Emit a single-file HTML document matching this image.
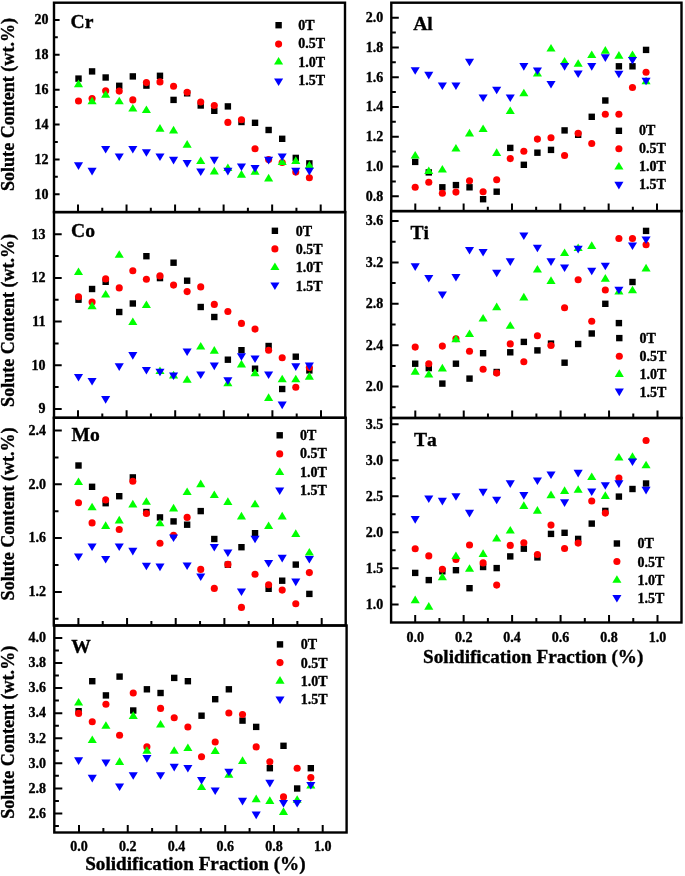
<!DOCTYPE html><html><head><meta charset="utf-8"><style>html,body{margin:0;padding:0;background:#fff;}svg{display:block;filter:blur(0.3px);}text.nk{font-kerning:none;}text{font-family:"Liberation Serif",serif;font-weight:bold;fill:#000;stroke:#000;stroke-width:0.35px;}</style></head><body>
<svg width="685" height="876" viewBox="0 0 685 876">
<rect width="685" height="876" fill="#fff"/>
<path d="M54.00 194.30h5.6M54.00 176.86h3.8M54.00 159.42h5.6M54.00 141.98h3.8M54.00 124.54h5.6M54.00 107.10h3.8M54.00 89.66h5.6M54.00 72.22h3.8M54.00 54.78h5.6M54.00 37.34h3.8M54.00 19.90h5.6M78.00 212.10v-7.6M102.27 212.10v-4.4M126.54 212.10v-7.6M150.81 212.10v-4.4M175.08 212.10v-7.6M199.35 212.10v-4.4M223.62 212.10v-7.6M247.89 212.10v-4.4M272.16 212.10v-7.6M296.43 212.10v-4.4M320.70 212.10v-7.6M54.00 408.90h7.7M54.00 387.08h4.6M54.00 365.25h7.7M54.00 343.43h4.6M54.00 321.60h7.7M54.00 299.77h4.6M54.00 277.95h7.7M54.00 256.12h4.6M54.00 234.30h7.7M78.00 417.80v-7.6M102.30 417.80v-4.4M126.60 417.80v-7.6M150.90 417.80v-4.4M175.20 417.80v-7.6M199.50 417.80v-4.4M223.80 417.80v-7.6M248.10 417.80v-4.4M272.40 417.80v-7.6M296.70 417.80v-4.4M321.00 417.80v-7.6M53.80 618.80h4.7M53.80 591.90h8.0M53.80 565.00h4.7M53.80 538.10h8.0M53.80 511.20h4.7M53.80 484.30h8.0M53.80 457.40h4.7M53.80 430.50h8.0M78.40 625.50v-7.6M102.73 625.50v-4.4M127.06 625.50v-7.6M151.39 625.50v-4.4M175.72 625.50v-7.6M200.05 625.50v-4.4M224.38 625.50v-7.6M248.71 625.50v-4.4M273.04 625.50v-7.6M297.37 625.50v-4.4M321.70 625.50v-7.6M54.30 826.00h4.6M54.30 813.46h8.0M54.30 800.92h4.6M54.30 788.38h8.0M54.30 775.84h4.6M54.30 763.30h8.0M54.30 750.76h4.6M54.30 738.22h8.0M54.30 725.68h4.6M54.30 713.14h8.0M54.30 700.60h4.6M54.30 688.06h8.0M54.30 675.52h4.6M54.30 662.98h8.0M54.30 650.44h4.6M54.30 637.90h8.0M79.00 832.50v-7.6M103.37 832.50v-4.4M127.74 832.50v-7.6M152.11 832.50v-4.4M176.48 832.50v-7.6M200.85 832.50v-4.4M225.22 832.50v-7.6M249.59 832.50v-4.4M273.96 832.50v-7.6M298.33 832.50v-4.4M322.70 832.50v-7.6M391.30 196.26h7.5M391.30 181.38h4.5M391.30 166.50h7.5M391.30 151.62h4.5M391.30 136.74h7.5M391.30 121.86h4.5M391.30 106.98h7.5M391.30 92.10h4.5M391.30 77.22h7.5M391.30 62.34h4.5M391.30 47.46h7.5M391.30 32.58h4.5M391.30 17.70h7.5M415.30 211.10v-7.6M439.47 211.10v-4.4M463.64 211.10v-7.6M487.81 211.10v-4.4M511.98 211.10v-7.6M536.15 211.10v-4.4M560.32 211.10v-7.6M584.49 211.10v-4.4M608.66 211.10v-7.6M632.83 211.10v-4.4M657.00 211.10v-7.6M391.10 407.30h4.5M391.10 386.60h7.5M391.10 365.90h4.5M391.10 345.20h7.5M391.10 324.50h4.5M391.10 303.80h7.5M391.10 283.10h4.5M391.10 262.40h7.5M391.10 241.70h4.5M391.10 221.00h7.5M415.30 418.00v-7.6M439.52 418.00v-4.4M463.74 418.00v-7.6M487.96 418.00v-4.4M512.18 418.00v-7.6M536.40 418.00v-4.4M560.62 418.00v-7.6M584.84 418.00v-4.4M609.06 418.00v-7.6M633.28 418.00v-4.4M657.50 418.00v-7.6M391.10 604.40h7.5M391.10 586.38h4.5M391.10 568.36h7.5M391.10 550.34h4.5M391.10 532.32h7.5M391.10 514.30h4.5M391.10 496.28h7.5M391.10 478.26h4.5M391.10 460.24h7.5M391.10 442.22h4.5M391.10 424.20h7.5M415.20 622.50v-7.6M439.43 622.50v-4.4M463.66 622.50v-7.6M487.89 622.50v-4.4M512.12 622.50v-7.6M536.35 622.50v-4.4M560.58 622.50v-7.6M584.81 622.50v-4.4M609.04 622.50v-7.6M633.27 622.50v-4.4M657.50 622.50v-7.6" stroke="#000" stroke-width="2.0" fill="none"/>
<rect x="54" y="2.7" width="291.00" height="209.40" fill="none" stroke="#000" stroke-width="2.4"/>
<rect x="54" y="212.1" width="291.30" height="205.70" fill="none" stroke="#000" stroke-width="2.4"/>
<rect x="53.8" y="417.8" width="291.90" height="207.70" fill="none" stroke="#000" stroke-width="2.4"/>
<rect x="54.3" y="625.5" width="292.30" height="207.00" fill="none" stroke="#000" stroke-width="2.4"/>
<rect x="391.3" y="2.7" width="290.20" height="208.40" fill="none" stroke="#000" stroke-width="2.4"/>
<rect x="391.1" y="211.1" width="290.40" height="206.90" fill="none" stroke="#000" stroke-width="2.4"/>
<rect x="391.1" y="418" width="290.40" height="204.50" fill="none" stroke="#000" stroke-width="2.4"/>
<text x="48.5" y="198.65" font-size="14" text-anchor="end">10</text>
<text x="48.5" y="163.77" font-size="14" text-anchor="end">12</text>
<text x="48.5" y="128.89" font-size="14" text-anchor="end">14</text>
<text x="48.5" y="94.01" font-size="14" text-anchor="end">16</text>
<text x="48.5" y="59.13" font-size="14" text-anchor="end">18</text>
<text x="48.5" y="24.25" font-size="14" text-anchor="end">20</text>
<text x="70.5" y="27.6" font-size="19.6" class="nk">Cr</text>
<g fill="#000"><rect x="275.40" y="22.00" width="6.4" height="6.4"/></g><g fill="#f00"><circle cx="278.60" cy="44.10" r="3.55"/></g><g fill="#0f0"><path d="M278.60 57.00L283.15 64.60L274.05 64.60Z"/></g><g fill="#00f"><path d="M274.05 78.40L283.15 78.40L278.60 86.00Z"/></g>
<text x="298.3" y="29.8" font-size="14">0T</text>
<text x="298.3" y="48.4" font-size="14">0.5T</text>
<text x="298.3" y="66.7" font-size="14">1.0T</text>
<text x="298.3" y="85.0" font-size="14">1.5T</text>
<text transform="translate(13.9 104.5) rotate(-90)" font-size="18.5" text-anchor="middle" textLength="173" lengthAdjust="spacingAndGlyphs">Solute Content (wt.%)</text>
<text x="45.6" y="413.25" font-size="14" text-anchor="end">9</text>
<text x="45.6" y="369.60" font-size="14" text-anchor="end">10</text>
<text x="45.6" y="325.95" font-size="14" text-anchor="end">11</text>
<text x="45.6" y="282.30" font-size="14" text-anchor="end">12</text>
<text x="45.6" y="238.65" font-size="14" text-anchor="end">13</text>
<text x="71.0" y="236.8" font-size="19.6" class="nk">Co</text>
<g fill="#000"><rect x="271.70" y="227.60" width="6.4" height="6.4"/></g><g fill="#f00"><circle cx="274.90" cy="248.90" r="3.55"/></g><g fill="#0f0"><path d="M274.90 262.40L279.45 270.00L270.35 270.00Z"/></g><g fill="#00f"><path d="M270.35 282.40L279.45 282.40L274.90 290.00Z"/></g>
<text x="295.7" y="235.8" font-size="14">0T</text>
<text x="295.7" y="254" font-size="14">0.5T</text>
<text x="295.7" y="272.4" font-size="14">1.0T</text>
<text x="295.7" y="290.5" font-size="14">1.5T</text>
<text transform="translate(13.9 320.4) rotate(-90)" font-size="18.5" text-anchor="middle" textLength="173" lengthAdjust="spacingAndGlyphs">Solute Content (wt.%)</text>
<text x="45.9" y="596.25" font-size="14" text-anchor="end">1.2</text>
<text x="45.9" y="542.45" font-size="14" text-anchor="end">1.6</text>
<text x="45.9" y="488.65" font-size="14" text-anchor="end">2.0</text>
<text x="45.9" y="434.85" font-size="14" text-anchor="end">2.4</text>
<text x="71.6" y="440.6" font-size="19.6" class="nk">Mo</text>
<g fill="#000"><rect x="276.50" y="432.10" width="6.4" height="6.4"/></g><g fill="#f00"><circle cx="279.70" cy="453.90" r="3.55"/></g><g fill="#0f0"><path d="M279.70 467.40L284.25 475.00L275.15 475.00Z"/></g><g fill="#00f"><path d="M275.15 487.40L284.25 487.40L279.70 495.00Z"/></g>
<text x="300.0" y="440.1" font-size="14">0T</text>
<text x="300.0" y="458.4" font-size="14">0.5T</text>
<text x="300.0" y="476.7" font-size="14">1.0T</text>
<text x="300.0" y="495.0" font-size="14">1.5T</text>
<text transform="translate(13.9 513.9) rotate(-90)" font-size="18.5" text-anchor="middle" textLength="173" lengthAdjust="spacingAndGlyphs">Solute Content (wt.%)</text>
<text x="45.9" y="817.81" font-size="14" text-anchor="end">2.6</text>
<text x="45.9" y="792.73" font-size="14" text-anchor="end">2.8</text>
<text x="45.9" y="767.65" font-size="14" text-anchor="end">3.0</text>
<text x="45.9" y="742.57" font-size="14" text-anchor="end">3.2</text>
<text x="45.9" y="717.49" font-size="14" text-anchor="end">3.4</text>
<text x="45.9" y="692.41" font-size="14" text-anchor="end">3.6</text>
<text x="45.9" y="667.33" font-size="14" text-anchor="end">3.8</text>
<text x="45.9" y="642.25" font-size="14" text-anchor="end">4.0</text>
<text x="79.00" y="850.5" font-size="14" text-anchor="middle">0.0</text>
<text x="127.74" y="850.5" font-size="14" text-anchor="middle">0.2</text>
<text x="176.48" y="850.5" font-size="14" text-anchor="middle">0.4</text>
<text x="225.22" y="850.5" font-size="14" text-anchor="middle">0.6</text>
<text x="273.96" y="850.5" font-size="14" text-anchor="middle">0.8</text>
<text x="322.70" y="850.5" font-size="14" text-anchor="middle">1.0</text>
<text x="71.2" y="652.9" font-size="19.6" class="nk">W</text>
<g fill="#000"><rect x="276.80" y="641.20" width="6.4" height="6.4"/></g><g fill="#f00"><circle cx="280.00" cy="662.60" r="3.55"/></g><g fill="#0f0"><path d="M280.00 676.10L284.55 683.70L275.45 683.70Z"/></g><g fill="#00f"><path d="M275.45 696.50L284.55 696.50L280.00 704.10Z"/></g>
<text x="300.7" y="649.2" font-size="14">0T</text>
<text x="300.7" y="667.5" font-size="14">0.5T</text>
<text x="300.7" y="685.8" font-size="14">1.0T</text>
<text x="300.7" y="704.1" font-size="14">1.5T</text>
<text transform="translate(13.9 732.3) rotate(-90)" font-size="18.5" text-anchor="middle" textLength="173" lengthAdjust="spacingAndGlyphs">Solute Content (wt.%)</text>
<text x="383.3" y="200.61" font-size="14" text-anchor="end">0.8</text>
<text x="383.3" y="170.85" font-size="14" text-anchor="end">1.0</text>
<text x="383.3" y="141.09" font-size="14" text-anchor="end">1.2</text>
<text x="383.3" y="111.33" font-size="14" text-anchor="end">1.4</text>
<text x="383.3" y="81.57" font-size="14" text-anchor="end">1.6</text>
<text x="383.3" y="51.81" font-size="14" text-anchor="end">1.8</text>
<text x="383.3" y="22.05" font-size="14" text-anchor="end">2.0</text>
<text x="413.2" y="29.7" font-size="19.6" class="nk">Al</text>
<g fill="#000"><rect x="615.70" y="127.60" width="6.4" height="6.4"/></g><g fill="#f00"><circle cx="618.90" cy="148.80" r="3.55"/></g><g fill="#0f0"><path d="M618.90 162.00L623.45 169.60L614.35 169.60Z"/></g><g fill="#00f"><path d="M614.35 181.80L623.45 181.80L618.90 189.40Z"/></g>
<text x="639.0" y="135.2" font-size="14">0T</text>
<text x="639.0" y="153.2" font-size="14">0.5T</text>
<text x="639.0" y="171.3" font-size="14">1.0T</text>
<text x="639.0" y="189.3" font-size="14">1.5T</text>
<text x="383.3" y="390.95" font-size="14" text-anchor="end">2.0</text>
<text x="383.3" y="349.55" font-size="14" text-anchor="end">2.4</text>
<text x="383.3" y="308.15" font-size="14" text-anchor="end">2.8</text>
<text x="383.3" y="266.75" font-size="14" text-anchor="end">3.2</text>
<text x="383.3" y="225.35" font-size="14" text-anchor="end">3.6</text>
<text x="410.4" y="238.8" font-size="19.6" class="nk">Ti</text>
<g fill="#000"><rect x="616.10" y="334.90" width="6.4" height="6.4"/></g><g fill="#f00"><circle cx="619.30" cy="356.20" r="3.55"/></g><g fill="#0f0"><path d="M619.30 369.30L623.85 376.90L614.75 376.90Z"/></g><g fill="#00f"><path d="M614.75 388.60L623.85 388.60L619.30 396.20Z"/></g>
<text x="639.6" y="343.1" font-size="14">0T</text>
<text x="639.6" y="361" font-size="14">0.5T</text>
<text x="639.6" y="378.6" font-size="14">1.0T</text>
<text x="639.6" y="397.2" font-size="14">1.5T</text>
<text x="383.3" y="608.75" font-size="14" text-anchor="end">1.0</text>
<text x="383.3" y="572.71" font-size="14" text-anchor="end">1.5</text>
<text x="383.3" y="536.67" font-size="14" text-anchor="end">2.0</text>
<text x="383.3" y="500.63" font-size="14" text-anchor="end">2.5</text>
<text x="383.3" y="464.59" font-size="14" text-anchor="end">3.0</text>
<text x="383.3" y="428.55" font-size="14" text-anchor="end">3.5</text>
<text x="415.20" y="641.8" font-size="14" text-anchor="middle">0.0</text>
<text x="463.66" y="641.8" font-size="14" text-anchor="middle">0.2</text>
<text x="512.12" y="641.8" font-size="14" text-anchor="middle">0.4</text>
<text x="560.58" y="641.8" font-size="14" text-anchor="middle">0.6</text>
<text x="609.04" y="641.8" font-size="14" text-anchor="middle">0.8</text>
<text x="657.50" y="641.8" font-size="14" text-anchor="middle">1.0</text>
<text x="414.0" y="445.6" font-size="19.6" class="nk">Ta</text>
<g fill="#000"><rect x="613.70" y="540.30" width="6.4" height="6.4"/></g><g fill="#f00"><circle cx="616.90" cy="561.50" r="3.55"/></g><g fill="#0f0"><path d="M616.90 575.20L621.45 582.80L612.35 582.80Z"/></g><g fill="#00f"><path d="M612.35 594.90L621.45 594.90L616.90 602.50Z"/></g>
<text x="637.5" y="548.4" font-size="14">0T</text>
<text x="637.5" y="566.5" font-size="14">0.5T</text>
<text x="637.5" y="584.5" font-size="14">1.0T</text>
<text x="637.5" y="602.7" font-size="14">1.5T</text>
<text x="85.2" y="870.2" font-size="19" textLength="220.5" lengthAdjust="spacingAndGlyphs">Solidification Fraction (%)</text>
<text x="423.1" y="662.6" font-size="19" textLength="220.3" lengthAdjust="spacingAndGlyphs">Solidification Fraction (%)</text>
<g fill="#000"><rect x="75.30" y="75.40" width="6.4" height="6.4"/><rect x="88.88" y="68.20" width="6.4" height="6.4"/><rect x="102.46" y="74.30" width="6.4" height="6.4"/><rect x="116.04" y="82.60" width="6.4" height="6.4"/><rect x="129.62" y="73.20" width="6.4" height="6.4"/><rect x="143.20" y="82.40" width="6.4" height="6.4"/><rect x="156.78" y="72.60" width="6.4" height="6.4"/><rect x="170.36" y="96.70" width="6.4" height="6.4"/><rect x="183.94" y="90.10" width="6.4" height="6.4"/><rect x="197.52" y="102.30" width="6.4" height="6.4"/><rect x="211.10" y="107.60" width="6.4" height="6.4"/><rect x="224.68" y="103.20" width="6.4" height="6.4"/><rect x="238.26" y="118.80" width="6.4" height="6.4"/><rect x="251.84" y="119.60" width="6.4" height="6.4"/><rect x="265.42" y="126.80" width="6.4" height="6.4"/><rect x="279.00" y="135.60" width="6.4" height="6.4"/><rect x="292.58" y="154.70" width="6.4" height="6.4"/><rect x="306.16" y="160.20" width="6.4" height="6.4"/></g>
<g fill="#f00"><circle cx="78.50" cy="101.00" r="3.55"/><circle cx="92.08" cy="98.50" r="3.55"/><circle cx="105.66" cy="90.70" r="3.55"/><circle cx="119.24" cy="91.10" r="3.55"/><circle cx="132.82" cy="99.90" r="3.55"/><circle cx="146.40" cy="82.60" r="3.55"/><circle cx="159.98" cy="81.90" r="3.55"/><circle cx="173.56" cy="86.30" r="3.55"/><circle cx="187.14" cy="92.20" r="3.55"/><circle cx="200.72" cy="102.00" r="3.55"/><circle cx="214.30" cy="105.50" r="3.55"/><circle cx="227.88" cy="122.40" r="3.55"/><circle cx="241.46" cy="119.80" r="3.55"/><circle cx="255.04" cy="148.70" r="3.55"/><circle cx="268.62" cy="159.60" r="3.55"/><circle cx="282.20" cy="162.50" r="3.55"/><circle cx="295.78" cy="172.10" r="3.55"/><circle cx="309.36" cy="177.80" r="3.55"/></g>
<g fill="#0f0"><path d="M78.50 79.60L83.05 87.20L73.95 87.20Z"/><path d="M92.08 96.70L96.63 104.30L87.53 104.30Z"/><path d="M105.66 90.20L110.21 97.80L101.11 97.80Z"/><path d="M119.24 96.70L123.79 104.30L114.69 104.30Z"/><path d="M132.82 103.90L137.37 111.50L128.27 111.50Z"/><path d="M146.40 105.50L150.95 113.10L141.85 113.10Z"/><path d="M159.98 124.10L164.53 131.70L155.43 131.70Z"/><path d="M173.56 125.80L178.11 133.40L169.01 133.40Z"/><path d="M187.14 140.10L191.69 147.70L182.59 147.70Z"/><path d="M200.72 156.50L205.27 164.10L196.17 164.10Z"/><path d="M214.30 166.80L218.85 174.40L209.75 174.40Z"/><path d="M227.88 163.50L232.43 171.10L223.33 171.10Z"/><path d="M241.46 170.10L246.01 177.70L236.91 177.70Z"/><path d="M255.04 167.20L259.59 174.80L250.49 174.80Z"/><path d="M268.62 173.80L273.17 181.40L264.07 181.40Z"/><path d="M282.20 157.40L286.75 165.00L277.65 165.00Z"/><path d="M295.78 156.30L300.33 163.90L291.23 163.90Z"/><path d="M309.36 160.90L313.91 168.50L304.81 168.50Z"/></g>
<g fill="#00f"><path d="M73.95 162.30L83.05 162.30L78.50 169.90Z"/><path d="M87.53 167.80L96.63 167.80L92.08 175.40Z"/><path d="M101.11 145.90L110.21 145.90L105.66 153.50Z"/><path d="M114.69 153.50L123.79 153.50L119.24 161.10Z"/><path d="M128.27 145.90L137.37 145.90L132.82 153.50Z"/><path d="M141.85 149.20L150.95 149.20L146.40 156.80Z"/><path d="M155.43 153.50L164.53 153.50L159.98 161.10Z"/><path d="M169.01 156.80L178.11 156.80L173.56 164.40Z"/><path d="M182.59 160.10L191.69 160.10L187.14 167.70Z"/><path d="M196.17 168.40L205.27 168.40L200.72 176.00Z"/><path d="M209.75 156.80L218.85 156.80L214.30 164.40Z"/><path d="M223.33 167.80L232.43 167.80L227.88 175.40Z"/><path d="M236.91 163.40L246.01 163.40L241.46 171.00Z"/><path d="M250.49 164.90L259.59 164.90L255.04 172.50Z"/><path d="M264.07 156.80L273.17 156.80L268.62 164.40Z"/><path d="M277.65 153.50L286.75 153.50L282.20 161.10Z"/><path d="M291.23 167.80L300.33 167.80L295.78 175.40Z"/><path d="M304.81 167.80L313.91 167.80L309.36 175.40Z"/></g>
<g fill="#000"><rect x="75.30" y="296.50" width="6.4" height="6.4"/><rect x="88.88" y="285.80" width="6.4" height="6.4"/><rect x="102.46" y="278.60" width="6.4" height="6.4"/><rect x="116.04" y="308.80" width="6.4" height="6.4"/><rect x="129.62" y="300.30" width="6.4" height="6.4"/><rect x="143.20" y="253.00" width="6.4" height="6.4"/><rect x="156.78" y="274.90" width="6.4" height="6.4"/><rect x="170.36" y="259.50" width="6.4" height="6.4"/><rect x="183.94" y="277.50" width="6.4" height="6.4"/><rect x="197.52" y="303.80" width="6.4" height="6.4"/><rect x="211.10" y="313.80" width="6.4" height="6.4"/><rect x="224.68" y="356.50" width="6.4" height="6.4"/><rect x="238.26" y="347.00" width="6.4" height="6.4"/><rect x="251.84" y="365.50" width="6.4" height="6.4"/><rect x="265.42" y="342.80" width="6.4" height="6.4"/><rect x="279.00" y="385.80" width="6.4" height="6.4"/><rect x="292.58" y="353.50" width="6.4" height="6.4"/><rect x="306.16" y="367.20" width="6.4" height="6.4"/></g>
<g fill="#f00"><circle cx="78.50" cy="296.70" r="3.55"/><circle cx="92.08" cy="302.10" r="3.55"/><circle cx="105.66" cy="278.90" r="3.55"/><circle cx="119.24" cy="287.90" r="3.55"/><circle cx="132.82" cy="270.80" r="3.55"/><circle cx="146.40" cy="279.20" r="3.55"/><circle cx="159.98" cy="275.90" r="3.55"/><circle cx="173.56" cy="285.10" r="3.55"/><circle cx="187.14" cy="291.60" r="3.55"/><circle cx="200.72" cy="286.90" r="3.55"/><circle cx="214.30" cy="304.40" r="3.55"/><circle cx="227.88" cy="311.50" r="3.55"/><circle cx="241.46" cy="323.40" r="3.55"/><circle cx="255.04" cy="329.10" r="3.55"/><circle cx="268.62" cy="350.20" r="3.55"/><circle cx="282.20" cy="357.70" r="3.55"/><circle cx="295.78" cy="387.30" r="3.55"/><circle cx="309.36" cy="367.60" r="3.55"/></g>
<g fill="#0f0"><path d="M78.50 267.50L83.05 275.10L73.95 275.10Z"/><path d="M92.08 301.60L96.63 309.20L87.53 309.20Z"/><path d="M105.66 290.00L110.21 297.60L101.11 297.60Z"/><path d="M119.24 250.20L123.79 257.80L114.69 257.80Z"/><path d="M132.82 317.40L137.37 325.00L128.27 325.00Z"/><path d="M146.40 300.50L150.95 308.10L141.85 308.10Z"/><path d="M159.98 366.40L164.53 374.00L155.43 374.00Z"/><path d="M173.56 370.80L178.11 378.40L169.01 378.40Z"/><path d="M187.14 375.20L191.69 382.80L182.59 382.80Z"/><path d="M200.72 341.90L205.27 349.50L196.17 349.50Z"/><path d="M214.30 346.10L218.85 353.70L209.75 353.70Z"/><path d="M227.88 378.70L232.43 386.30L223.33 386.30Z"/><path d="M241.46 359.80L246.01 367.40L236.91 367.40Z"/><path d="M255.04 368.60L259.59 376.20L250.49 376.20Z"/><path d="M268.62 393.30L273.17 400.90L264.07 400.90Z"/><path d="M282.20 374.70L286.75 382.30L277.65 382.30Z"/><path d="M295.78 374.70L300.33 382.30L291.23 382.30Z"/><path d="M309.36 372.10L313.91 379.70L304.81 379.70Z"/></g>
<g fill="#00f"><path d="M73.95 374.00L83.05 374.00L78.50 381.60Z"/><path d="M87.53 377.90L96.63 377.90L92.08 385.50Z"/><path d="M101.11 396.10L110.21 396.10L105.66 403.70Z"/><path d="M114.69 363.30L123.79 363.30L119.24 370.90Z"/><path d="M128.27 352.10L137.37 352.10L132.82 359.70Z"/><path d="M141.85 367.00L150.95 367.00L146.40 374.60Z"/><path d="M155.43 368.70L164.53 368.70L159.98 376.30Z"/><path d="M169.01 372.40L178.11 372.40L173.56 380.00Z"/><path d="M182.59 348.40L191.69 348.40L187.14 356.00Z"/><path d="M196.17 371.40L205.27 371.40L200.72 379.00Z"/><path d="M209.75 362.60L218.85 362.60L214.30 370.20Z"/><path d="M223.33 377.30L232.43 377.30L227.88 384.90Z"/><path d="M236.91 353.20L246.01 353.20L241.46 360.80Z"/><path d="M250.49 355.40L259.59 355.40L255.04 363.00Z"/><path d="M264.07 371.40L273.17 371.40L268.62 379.00Z"/><path d="M277.65 401.60L286.75 401.60L282.20 409.20Z"/><path d="M291.23 363.30L300.33 363.30L295.78 370.90Z"/><path d="M304.81 362.60L313.91 362.60L309.36 370.20Z"/></g>
<g fill="#000"><rect x="75.30" y="462.30" width="6.4" height="6.4"/><rect x="88.88" y="483.60" width="6.4" height="6.4"/><rect x="102.46" y="500.00" width="6.4" height="6.4"/><rect x="116.04" y="493.00" width="6.4" height="6.4"/><rect x="129.62" y="474.20" width="6.4" height="6.4"/><rect x="143.20" y="508.80" width="6.4" height="6.4"/><rect x="156.78" y="514.20" width="6.4" height="6.4"/><rect x="170.36" y="518.20" width="6.4" height="6.4"/><rect x="183.94" y="521.50" width="6.4" height="6.4"/><rect x="197.52" y="507.90" width="6.4" height="6.4"/><rect x="211.10" y="535.80" width="6.4" height="6.4"/><rect x="224.68" y="561.50" width="6.4" height="6.4"/><rect x="238.26" y="544.00" width="6.4" height="6.4"/><rect x="251.84" y="530.00" width="6.4" height="6.4"/><rect x="265.42" y="585.60" width="6.4" height="6.4"/><rect x="279.00" y="577.50" width="6.4" height="6.4"/><rect x="292.58" y="561.40" width="6.4" height="6.4"/><rect x="306.16" y="590.70" width="6.4" height="6.4"/></g>
<g fill="#f00"><circle cx="78.50" cy="502.80" r="3.55"/><circle cx="92.08" cy="522.90" r="3.55"/><circle cx="105.66" cy="499.90" r="3.55"/><circle cx="119.24" cy="529.50" r="3.55"/><circle cx="132.82" cy="481.30" r="3.55"/><circle cx="146.40" cy="513.50" r="3.55"/><circle cx="159.98" cy="543.30" r="3.55"/><circle cx="173.56" cy="535.40" r="3.55"/><circle cx="187.14" cy="517.40" r="3.55"/><circle cx="200.72" cy="569.40" r="3.55"/><circle cx="214.30" cy="588.40" r="3.55"/><circle cx="227.88" cy="564.40" r="3.55"/><circle cx="241.46" cy="607.40" r="3.55"/><circle cx="255.04" cy="574.20" r="3.55"/><circle cx="268.62" cy="584.70" r="3.55"/><circle cx="282.20" cy="590.10" r="3.55"/><circle cx="295.78" cy="603.70" r="3.55"/><circle cx="309.36" cy="572.60" r="3.55"/></g>
<g fill="#0f0"><path d="M78.50 477.50L83.05 485.10L73.95 485.10Z"/><path d="M92.08 502.70L96.63 510.30L87.53 510.30Z"/><path d="M105.66 521.30L110.21 528.90L101.11 528.90Z"/><path d="M119.24 515.80L123.79 523.40L114.69 523.40Z"/><path d="M132.82 499.80L137.37 507.40L128.27 507.40Z"/><path d="M146.40 497.20L150.95 504.80L141.85 504.80Z"/><path d="M159.98 518.70L164.53 526.30L155.43 526.30Z"/><path d="M173.56 503.80L178.11 511.40L169.01 511.40Z"/><path d="M187.14 487.40L191.69 495.00L182.59 495.00Z"/><path d="M200.72 479.60L205.27 487.20L196.17 487.20Z"/><path d="M214.30 490.50L218.85 498.10L209.75 498.10Z"/><path d="M227.88 497.30L232.43 504.90L223.33 504.90Z"/><path d="M241.46 511.80L246.01 519.40L236.91 519.40Z"/><path d="M255.04 499.70L259.59 507.30L250.49 507.30Z"/><path d="M268.62 521.40L273.17 529.00L264.07 529.00Z"/><path d="M282.20 511.80L286.75 519.40L277.65 519.40Z"/><path d="M295.78 529.30L300.33 536.90L291.23 536.90Z"/><path d="M309.36 547.90L313.91 555.50L304.81 555.50Z"/></g>
<g fill="#00f"><path d="M73.95 553.40L83.05 553.40L78.50 561.00Z"/><path d="M87.53 543.50L96.63 543.50L92.08 551.10Z"/><path d="M101.11 555.90L110.21 555.90L105.66 563.50Z"/><path d="M114.69 543.50L123.79 543.50L119.24 551.10Z"/><path d="M128.27 547.80L137.37 547.80L132.82 555.40Z"/><path d="M141.85 562.70L150.95 562.70L146.40 570.30Z"/><path d="M155.43 563.60L164.53 563.60L159.98 571.20Z"/><path d="M169.01 534.40L178.11 534.40L173.56 542.00Z"/><path d="M182.59 562.50L191.69 562.50L187.14 570.10Z"/><path d="M196.17 573.50L205.27 573.50L200.72 581.10Z"/><path d="M209.75 543.90L218.85 543.90L214.30 551.50Z"/><path d="M223.33 549.40L232.43 549.40L227.88 557.00Z"/><path d="M236.91 588.40L246.01 588.40L241.46 596.00Z"/><path d="M250.49 535.70L259.59 535.70L255.04 543.30Z"/><path d="M264.07 560.00L273.17 560.00L268.62 567.60Z"/><path d="M277.65 554.80L286.75 554.80L282.20 562.40Z"/><path d="M291.23 578.60L300.33 578.60L295.78 586.20Z"/><path d="M304.81 555.90L313.91 555.90L309.36 563.50Z"/></g>
<g fill="#000"><rect x="75.40" y="708.00" width="6.4" height="6.4"/><rect x="89.06" y="678.00" width="6.4" height="6.4"/><rect x="102.72" y="692.20" width="6.4" height="6.4"/><rect x="116.38" y="673.40" width="6.4" height="6.4"/><rect x="130.04" y="707.30" width="6.4" height="6.4"/><rect x="143.70" y="686.10" width="6.4" height="6.4"/><rect x="157.36" y="689.80" width="6.4" height="6.4"/><rect x="171.02" y="674.70" width="6.4" height="6.4"/><rect x="184.68" y="678.00" width="6.4" height="6.4"/><rect x="198.34" y="712.50" width="6.4" height="6.4"/><rect x="212.00" y="696.00" width="6.4" height="6.4"/><rect x="225.66" y="686.10" width="6.4" height="6.4"/><rect x="239.32" y="717.40" width="6.4" height="6.4"/><rect x="252.98" y="723.70" width="6.4" height="6.4"/><rect x="266.64" y="765.00" width="6.4" height="6.4"/><rect x="280.30" y="742.60" width="6.4" height="6.4"/><rect x="293.96" y="785.30" width="6.4" height="6.4"/><rect x="307.62" y="765.00" width="6.4" height="6.4"/></g>
<g fill="#f00"><circle cx="78.60" cy="713.40" r="3.55"/><circle cx="92.26" cy="721.70" r="3.55"/><circle cx="105.92" cy="704.20" r="3.55"/><circle cx="119.58" cy="735.30" r="3.55"/><circle cx="133.24" cy="693.00" r="3.55"/><circle cx="146.90" cy="746.70" r="3.55"/><circle cx="160.56" cy="708.40" r="3.55"/><circle cx="174.22" cy="717.80" r="3.55"/><circle cx="187.88" cy="727.00" r="3.55"/><circle cx="201.54" cy="756.70" r="3.55"/><circle cx="215.20" cy="742.00" r="3.55"/><circle cx="228.86" cy="713.00" r="3.55"/><circle cx="242.52" cy="714.50" r="3.55"/><circle cx="256.18" cy="746.90" r="3.55"/><circle cx="269.84" cy="761.70" r="3.55"/><circle cx="283.50" cy="796.90" r="3.55"/><circle cx="297.16" cy="768.20" r="3.55"/><circle cx="310.82" cy="777.50" r="3.55"/></g>
<g fill="#0f0"><path d="M78.60 698.00L83.15 705.60L74.05 705.60Z"/><path d="M92.26 735.40L96.81 743.00L87.71 743.00Z"/><path d="M105.92 721.20L110.47 728.80L101.37 728.80Z"/><path d="M119.58 757.30L124.13 764.90L115.03 764.90Z"/><path d="M133.24 711.30L137.79 718.90L128.69 718.90Z"/><path d="M146.90 746.20L151.45 753.80L142.35 753.80Z"/><path d="M160.56 719.90L165.11 727.50L156.01 727.50Z"/><path d="M174.22 746.20L178.77 753.80L169.67 753.80Z"/><path d="M187.88 743.50L192.43 751.10L183.33 751.10Z"/><path d="M201.54 782.50L206.09 790.10L196.99 790.10Z"/><path d="M215.20 746.40L219.75 754.00L210.65 754.00Z"/><path d="M228.86 770.10L233.41 777.70L224.31 777.70Z"/><path d="M242.52 756.30L247.07 763.90L237.97 763.90Z"/><path d="M256.18 794.60L260.73 802.20L251.63 802.20Z"/><path d="M269.84 796.30L274.39 803.90L265.29 803.90Z"/><path d="M283.50 807.30L288.05 814.90L278.95 814.90Z"/><path d="M297.16 795.20L301.71 802.80L292.61 802.80Z"/><path d="M310.82 780.80L315.37 788.40L306.27 788.40Z"/></g>
<g fill="#00f"><path d="M74.05 757.30L83.15 757.30L78.60 764.90Z"/><path d="M87.71 774.80L96.81 774.80L92.26 782.40Z"/><path d="M101.37 759.50L110.47 759.50L105.92 767.10Z"/><path d="M115.03 783.50L124.13 783.50L119.58 791.10Z"/><path d="M128.69 772.20L137.79 772.20L133.24 779.80Z"/><path d="M142.35 755.10L151.45 755.10L146.90 762.70Z"/><path d="M156.01 772.20L165.11 772.20L160.56 779.80Z"/><path d="M169.67 763.80L178.77 763.80L174.22 771.40Z"/><path d="M183.33 764.90L192.43 764.90L187.88 772.50Z"/><path d="M196.99 777.00L206.09 777.00L201.54 784.60Z"/><path d="M210.65 787.50L219.75 787.50L215.20 795.10Z"/><path d="M224.31 768.70L233.41 768.70L228.86 776.30Z"/><path d="M237.97 797.80L247.07 797.80L242.52 805.40Z"/><path d="M251.63 811.60L260.73 811.60L256.18 819.20Z"/><path d="M265.29 779.80L274.39 779.80L269.84 787.40Z"/><path d="M278.95 800.00L288.05 800.00L283.50 807.60Z"/><path d="M292.61 800.00L301.71 800.00L297.16 807.60Z"/><path d="M306.27 782.00L315.37 782.00L310.82 789.60Z"/></g>
<g fill="#000"><rect x="412.00" y="158.70" width="6.4" height="6.4"/><rect x="425.58" y="169.20" width="6.4" height="6.4"/><rect x="439.16" y="184.10" width="6.4" height="6.4"/><rect x="452.74" y="181.90" width="6.4" height="6.4"/><rect x="466.32" y="184.10" width="6.4" height="6.4"/><rect x="479.90" y="196.00" width="6.4" height="6.4"/><rect x="493.48" y="188.50" width="6.4" height="6.4"/><rect x="507.06" y="144.70" width="6.4" height="6.4"/><rect x="520.64" y="161.60" width="6.4" height="6.4"/><rect x="534.22" y="149.50" width="6.4" height="6.4"/><rect x="547.80" y="146.70" width="6.4" height="6.4"/><rect x="561.38" y="127.20" width="6.4" height="6.4"/><rect x="574.96" y="131.60" width="6.4" height="6.4"/><rect x="588.54" y="113.60" width="6.4" height="6.4"/><rect x="602.12" y="97.30" width="6.4" height="6.4"/><rect x="615.70" y="63.10" width="6.4" height="6.4"/><rect x="629.28" y="63.10" width="6.4" height="6.4"/><rect x="642.86" y="46.70" width="6.4" height="6.4"/></g>
<g fill="#f00"><circle cx="415.20" cy="187.30" r="3.55"/><circle cx="428.78" cy="182.30" r="3.55"/><circle cx="442.36" cy="193.20" r="3.55"/><circle cx="455.94" cy="192.10" r="3.55"/><circle cx="469.52" cy="180.80" r="3.55"/><circle cx="483.10" cy="191.70" r="3.55"/><circle cx="496.68" cy="179.70" r="3.55"/><circle cx="510.26" cy="158.60" r="3.55"/><circle cx="523.84" cy="151.20" r="3.55"/><circle cx="537.42" cy="139.10" r="3.55"/><circle cx="551.00" cy="137.80" r="3.55"/><circle cx="564.58" cy="155.50" r="3.55"/><circle cx="578.16" cy="133.20" r="3.55"/><circle cx="591.74" cy="143.50" r="3.55"/><circle cx="605.32" cy="114.20" r="3.55"/><circle cx="618.90" cy="114.20" r="3.55"/><circle cx="632.48" cy="87.50" r="3.55"/><circle cx="646.06" cy="72.20" r="3.55"/></g>
<g fill="#0f0"><path d="M415.20 151.00L419.75 158.60L410.65 158.60Z"/><path d="M428.78 166.40L433.33 174.00L424.23 174.00Z"/><path d="M442.36 164.90L446.91 172.50L437.81 172.50Z"/><path d="M455.94 143.90L460.49 151.50L451.39 151.50Z"/><path d="M469.52 128.80L474.07 136.40L464.97 136.40Z"/><path d="M483.10 124.40L487.65 132.00L478.55 132.00Z"/><path d="M496.68 148.30L501.23 155.90L492.13 155.90Z"/><path d="M510.26 106.40L514.81 114.00L505.71 114.00Z"/><path d="M523.84 88.70L528.39 96.30L519.29 96.30Z"/><path d="M537.42 69.00L541.97 76.60L532.87 76.60Z"/><path d="M551.00 43.90L555.55 51.50L546.45 51.50Z"/><path d="M564.58 57.00L569.13 64.60L560.03 64.60Z"/><path d="M578.16 59.20L582.71 66.80L573.61 66.80Z"/><path d="M591.74 50.50L596.29 58.10L587.19 58.10Z"/><path d="M605.32 46.10L609.87 53.70L600.77 53.70Z"/><path d="M618.90 51.10L623.45 58.70L614.35 58.70Z"/><path d="M632.48 50.50L637.03 58.10L627.93 58.10Z"/><path d="M646.06 76.70L650.61 84.30L641.51 84.30Z"/></g>
<g fill="#00f"><path d="M410.65 67.20L419.75 67.20L415.20 74.80Z"/><path d="M424.23 71.80L433.33 71.80L428.78 79.40Z"/><path d="M437.81 82.40L446.91 82.40L442.36 90.00Z"/><path d="M451.39 82.40L460.49 82.40L455.94 90.00Z"/><path d="M464.97 58.70L474.07 58.70L469.52 66.30Z"/><path d="M478.55 94.40L487.65 94.40L483.10 102.00Z"/><path d="M492.13 86.70L501.23 86.70L496.68 94.30Z"/><path d="M505.71 94.40L514.81 94.40L510.26 102.00Z"/><path d="M519.29 63.10L528.39 63.10L523.84 70.70Z"/><path d="M532.87 67.50L541.97 67.50L537.42 75.10Z"/><path d="M546.45 81.00L555.55 81.00L551.00 88.60Z"/><path d="M560.03 63.10L569.13 63.10L564.58 70.70Z"/><path d="M573.61 70.50L582.71 70.50L578.16 78.10Z"/><path d="M587.19 63.10L596.29 63.10L591.74 70.70Z"/><path d="M600.77 54.30L609.87 54.30L605.32 61.90Z"/><path d="M614.35 70.70L623.45 70.70L618.90 78.30Z"/><path d="M627.93 56.90L637.03 56.90L632.48 64.50Z"/><path d="M641.51 77.70L650.61 77.70L646.06 85.30Z"/></g>
<g fill="#000"><rect x="412.00" y="360.50" width="6.4" height="6.4"/><rect x="425.58" y="364.90" width="6.4" height="6.4"/><rect x="439.16" y="380.40" width="6.4" height="6.4"/><rect x="452.74" y="360.50" width="6.4" height="6.4"/><rect x="466.32" y="375.40" width="6.4" height="6.4"/><rect x="479.90" y="350.00" width="6.4" height="6.4"/><rect x="493.48" y="368.80" width="6.4" height="6.4"/><rect x="507.06" y="349.10" width="6.4" height="6.4"/><rect x="520.64" y="338.70" width="6.4" height="6.4"/><rect x="534.22" y="347.20" width="6.4" height="6.4"/><rect x="547.80" y="340.40" width="6.4" height="6.4"/><rect x="561.38" y="359.50" width="6.4" height="6.4"/><rect x="574.96" y="340.80" width="6.4" height="6.4"/><rect x="588.54" y="330.30" width="6.4" height="6.4"/><rect x="602.12" y="300.60" width="6.4" height="6.4"/><rect x="615.70" y="319.90" width="6.4" height="6.4"/><rect x="629.28" y="278.80" width="6.4" height="6.4"/><rect x="642.86" y="227.70" width="6.4" height="6.4"/></g>
<g fill="#f00"><circle cx="415.20" cy="347.10" r="3.55"/><circle cx="428.78" cy="363.70" r="3.55"/><circle cx="442.36" cy="346.10" r="3.55"/><circle cx="455.94" cy="338.70" r="3.55"/><circle cx="469.52" cy="351.20" r="3.55"/><circle cx="483.10" cy="369.20" r="3.55"/><circle cx="496.68" cy="373.10" r="3.55"/><circle cx="510.26" cy="343.90" r="3.55"/><circle cx="523.84" cy="361.70" r="3.55"/><circle cx="537.42" cy="335.70" r="3.55"/><circle cx="551.00" cy="345.50" r="3.55"/><circle cx="564.58" cy="307.80" r="3.55"/><circle cx="578.16" cy="279.80" r="3.55"/><circle cx="591.74" cy="321.20" r="3.55"/><circle cx="605.32" cy="290.00" r="3.55"/><circle cx="618.90" cy="238.50" r="3.55"/><circle cx="632.48" cy="238.50" r="3.55"/><circle cx="646.06" cy="244.70" r="3.55"/></g>
<g fill="#0f0"><path d="M415.20 367.10L419.75 374.70L410.65 374.70Z"/><path d="M428.78 370.00L433.33 377.60L424.23 377.60Z"/><path d="M442.36 363.80L446.91 371.40L437.81 371.40Z"/><path d="M455.94 334.70L460.49 342.30L451.39 342.30Z"/><path d="M469.52 329.50L474.07 337.10L464.97 337.10Z"/><path d="M483.10 313.90L487.65 321.50L478.55 321.50Z"/><path d="M496.68 302.60L501.23 310.20L492.13 310.20Z"/><path d="M510.26 321.20L514.81 328.80L505.71 328.80Z"/><path d="M523.84 292.80L528.39 300.40L519.29 300.40Z"/><path d="M537.42 265.00L541.97 272.60L532.87 272.60Z"/><path d="M551.00 276.30L555.55 283.90L546.45 283.90Z"/><path d="M564.58 248.50L569.13 256.10L560.03 256.10Z"/><path d="M578.16 243.50L582.71 251.10L573.61 251.10Z"/><path d="M591.74 241.30L596.29 248.90L587.19 248.90Z"/><path d="M605.32 274.10L609.87 281.70L600.77 281.70Z"/><path d="M618.90 286.80L623.45 294.40L614.35 294.40Z"/><path d="M632.48 285.70L637.03 293.30L627.93 293.30Z"/><path d="M646.06 263.80L650.61 271.40L641.51 271.40Z"/></g>
<g fill="#00f"><path d="M410.65 263.30L419.75 263.30L415.20 270.90Z"/><path d="M424.23 274.90L433.33 274.90L428.78 282.50Z"/><path d="M437.81 291.50L446.91 291.50L442.36 299.10Z"/><path d="M451.39 274.00L460.49 274.00L455.94 281.60Z"/><path d="M464.97 246.90L474.07 246.90L469.52 254.50Z"/><path d="M478.55 248.90L487.65 248.90L483.10 256.50Z"/><path d="M492.13 269.70L501.23 269.70L496.68 277.30Z"/><path d="M505.71 258.30L514.81 258.30L510.26 265.90Z"/><path d="M519.29 232.40L528.39 232.40L523.84 240.00Z"/><path d="M532.87 244.70L541.97 244.70L537.42 252.30Z"/><path d="M546.45 258.30L555.55 258.30L551.00 265.90Z"/><path d="M560.03 264.40L569.13 264.40L564.58 272.00Z"/><path d="M573.61 245.80L582.71 245.80L578.16 253.40Z"/><path d="M587.19 267.70L596.29 267.70L591.74 275.30Z"/><path d="M600.77 262.70L609.87 262.70L605.32 270.30Z"/><path d="M614.35 286.70L623.45 286.70L618.90 294.30Z"/><path d="M627.93 242.50L637.03 242.50L632.48 250.10Z"/><path d="M641.51 236.40L650.61 236.40L646.06 244.00Z"/></g>
<g fill="#000"><rect x="412.00" y="569.70" width="6.4" height="6.4"/><rect x="425.58" y="576.90" width="6.4" height="6.4"/><rect x="439.16" y="568.10" width="6.4" height="6.4"/><rect x="452.74" y="567.00" width="6.4" height="6.4"/><rect x="466.32" y="585.00" width="6.4" height="6.4"/><rect x="479.90" y="563.80" width="6.4" height="6.4"/><rect x="493.48" y="564.90" width="6.4" height="6.4"/><rect x="507.06" y="553.20" width="6.4" height="6.4"/><rect x="520.64" y="545.50" width="6.4" height="6.4"/><rect x="534.22" y="554.20" width="6.4" height="6.4"/><rect x="547.80" y="530.70" width="6.4" height="6.4"/><rect x="561.38" y="529.60" width="6.4" height="6.4"/><rect x="574.96" y="535.70" width="6.4" height="6.4"/><rect x="588.54" y="520.40" width="6.4" height="6.4"/><rect x="602.12" y="507.70" width="6.4" height="6.4"/><rect x="615.70" y="493.40" width="6.4" height="6.4"/><rect x="629.28" y="485.80" width="6.4" height="6.4"/><rect x="642.86" y="480.30" width="6.4" height="6.4"/></g>
<g fill="#f00"><circle cx="415.20" cy="548.70" r="3.55"/><circle cx="428.78" cy="555.90" r="3.55"/><circle cx="442.36" cy="569.30" r="3.55"/><circle cx="455.94" cy="559.40" r="3.55"/><circle cx="469.52" cy="545.00" r="3.55"/><circle cx="483.10" cy="562.90" r="3.55"/><circle cx="496.68" cy="585.10" r="3.55"/><circle cx="510.26" cy="545.40" r="3.55"/><circle cx="523.84" cy="542.80" r="3.55"/><circle cx="537.42" cy="554.50" r="3.55"/><circle cx="551.00" cy="525.10" r="3.55"/><circle cx="564.58" cy="548.50" r="3.55"/><circle cx="578.16" cy="543.10" r="3.55"/><circle cx="591.74" cy="501.00" r="3.55"/><circle cx="605.32" cy="513.10" r="3.55"/><circle cx="618.90" cy="478.00" r="3.55"/><circle cx="646.06" cy="440.50" r="3.55"/></g>
<g fill="#0f0"><path d="M415.20 595.60L419.75 603.20L410.65 603.20Z"/><path d="M428.78 602.10L433.33 609.70L424.23 609.70Z"/><path d="M442.36 572.60L446.91 580.20L437.81 580.20Z"/><path d="M455.94 551.50L460.49 559.10L451.39 559.10Z"/><path d="M469.52 564.20L474.07 571.80L464.97 571.80Z"/><path d="M483.10 549.30L487.65 556.90L478.55 556.90Z"/><path d="M496.68 534.00L501.23 541.60L492.13 541.60Z"/><path d="M510.26 526.00L514.81 533.60L505.71 533.60Z"/><path d="M523.84 501.30L528.39 508.90L519.29 508.90Z"/><path d="M537.42 506.10L541.97 513.70L532.87 513.70Z"/><path d="M551.00 490.60L555.55 498.20L546.45 498.20Z"/><path d="M564.58 486.30L569.13 493.90L560.03 493.90Z"/><path d="M578.16 485.20L582.71 492.80L573.61 492.80Z"/><path d="M591.74 472.50L596.29 480.10L587.19 480.10Z"/><path d="M605.32 491.30L609.87 498.90L600.77 498.90Z"/><path d="M618.90 453.00L623.45 460.60L614.35 460.60Z"/><path d="M632.48 452.30L637.03 459.90L627.93 459.90Z"/><path d="M646.06 460.70L650.61 468.30L641.51 468.30Z"/></g>
<g fill="#00f"><path d="M410.65 516.10L419.75 516.10L415.20 523.70Z"/><path d="M424.23 495.40L433.33 495.40L428.78 503.00Z"/><path d="M437.81 497.80L446.91 497.80L442.36 505.40Z"/><path d="M451.39 493.20L460.49 493.20L455.94 500.80Z"/><path d="M464.97 509.80L474.07 509.80L469.52 517.40Z"/><path d="M478.55 488.80L487.65 488.80L483.10 496.40Z"/><path d="M492.13 496.70L501.23 496.70L496.68 504.30Z"/><path d="M505.71 480.30L514.81 480.30L510.26 487.90Z"/><path d="M519.29 492.10L528.39 492.10L523.84 499.70Z"/><path d="M532.87 477.40L541.97 477.40L537.42 485.00Z"/><path d="M546.45 471.50L555.55 471.50L551.00 479.10Z"/><path d="M560.03 499.30L569.13 499.30L564.58 506.90Z"/><path d="M573.61 469.80L582.71 469.80L578.16 477.40Z"/><path d="M587.19 488.40L596.29 488.40L591.74 496.00Z"/><path d="M600.77 482.20L609.87 482.20L605.32 489.80Z"/><path d="M614.35 480.30L623.45 480.30L618.90 487.90Z"/><path d="M627.93 458.40L637.03 458.40L632.48 466.00Z"/><path d="M641.51 486.80L650.61 486.80L646.06 494.40Z"/></g>
</svg></body></html>
